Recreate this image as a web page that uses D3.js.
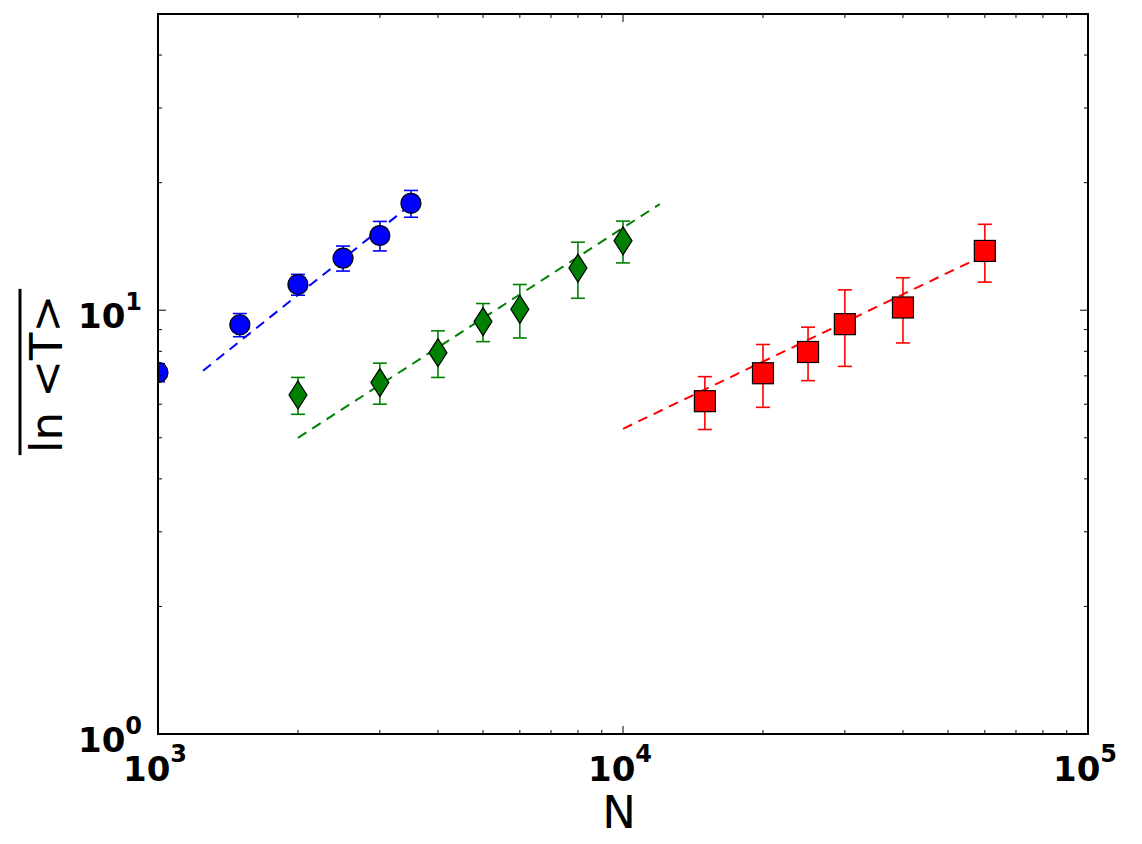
<!DOCTYPE html>
<html>
<head>
<meta charset="utf-8">
<script src="https://cdn.jsdelivr.net/npm/d3@7"></script>
<style>
  body { margin: 0; background: #fff; }
  text { font-family: "DejaVu Sans", sans-serif; }
</style>
</head>
<body>
<div id="main"></div>
<script>
// series values
var nBlue = [1000, 1500, 2000, 2500, 3000, 3500];
var tBlue = [7.13, 9.24, 11.5, 13.27, 15.0, 17.87];
var eBlue = [0.35, 0.58, 0.65, 0.9, 1.2, 1.3];

var nGreen = [2000, 3000, 4000, 5000, 6000, 8000, 10000];
var tGreen = [6.31, 6.75, 7.94, 9.40, 10.05, 12.57, 14.58];
var eGreen = [0.63, 0.75, 1.0, 0.97, 1.45, 1.9, 1.65];

var nRed = [15000, 20000, 25000, 30000, 40000, 60000];
var tRed = [6.1, 7.1, 7.97, 9.27, 10.15, 13.8];
var eRed = [0.87, 1.2, 1.15, 1.9, 1.78, 2.15];

// dashed fit lines (end points)
var fitBlueN = [1250, 3600], fitBlueT = [7.2, 18.2];
var fitGreenN = [2000, 12000], fitGreenT = [5.0, 17.8];
var fitRedN = [10000, 60000], fitRedT = [5.25, 13.5];

// tick labels
var xMajor = [1e3, 1e4, 1e5], xExp = ["3", "4", "5"];
var yMajor = [1, 10], yExp = ["0", "1"];

var ctx = {
    w: 1142,
    h: 844,
    left: 158,
    top: 14,
    right: 54,
    bottom: 110
};
var iw = ctx.w - ctx.left - ctx.right,
    ih = ctx.h - ctx.top - ctx.bottom;

var svg = d3.select("#main").append("svg")
    .attr("width", ctx.w)
    .attr("height", ctx.h);

var x = d3.scaleLog().domain([1e3, 1e5]).range([0, iw]);
var y = d3.scaleLog().domain([1, 50]).range([ih, 0]);

var g = svg.append("g").attr("transform", "translate(" + ctx.left + "," + ctx.top + ")");

g.append("clipPath").attr("id", "clip")
    .append("rect").attr("width", iw).attr("height", ih);

var plot = g.append("g").attr("clip-path", "url(#clip)");

var series = [
    {n: nBlue, t: tBlue, e: eBlue, fn: fitBlueN, ft: fitBlueT, color: "#0000ff", shape: "circle"},
    {n: nGreen, t: tGreen, e: eGreen, fn: fitGreenN, ft: fitGreenT, color: "#008000", shape: "diamond"},
    {n: nRed, t: tRed, e: eRed, fn: fitRedN, ft: fitRedT, color: "#ff0000", shape: "square"}
];

// fits first
series.forEach(function(s) {
    plot.append("line")
        .attr("x1", x(s.fn[0])).attr("y1", y(s.ft[0]))
        .attr("x2", x(s.fn[1])).attr("y2", y(s.ft[1]))
        .attr("stroke", s.color)
        .attr("stroke-width", 2)
        .attr("stroke-dasharray", "10,7");
});

// error bars
series.forEach(function(s) {
    var pts = s.n.map(function(d, i) { return {n: d, t: s.t[i], e: s.e[i]}; });
    var eb = plot.append("g").attr("stroke", s.color).attr("stroke-width", 1.6);
    pts.forEach(function(p) {
        var cx = x(p.n), y1 = y(p.t + p.e), y2 = y(p.t - p.e);
        eb.append("line").attr("x1", cx).attr("x2", cx).attr("y1", y1).attr("y2", y2);
        eb.append("line").attr("x1", cx - 7).attr("x2", cx + 7).attr("y1", y1).attr("y2", y1);
        eb.append("line").attr("x1", cx - 7).attr("x2", cx + 7).attr("y1", y2).attr("y2", y2);
    });
});

// markers
series.forEach(function(s) {
    var pts = s.n.map(function(d, i) { return {n: d, t: s.t[i]}; });
    var m = plot.append("g")
        .attr("fill", s.color)
        .attr("stroke", "#000")
        .attr("stroke-width", 1.2);
    pts.forEach(function(p) {
        var cx = x(p.n), cy = y(p.t);
        if (s.shape == "circle") {
            m.append("circle").attr("cx", cx).attr("cy", cy).attr("r", 10);
        } else if (s.shape == "diamond") {
            m.append("path").attr("d", "M" + cx + "," + (cy - 14) + "L" + (cx + 9) + "," + cy +
                "L" + cx + "," + (cy + 14) + "L" + (cx - 9) + "," + cy + "Z");
        } else {
            m.append("rect").attr("x", cx - 10.5).attr("y", cy - 10.5).attr("width", 21).attr("height", 21);
        }
    });
});

// ticks on all four sides, pointing inwards
var xMinor = [], yMinor = [];
[1e3, 1e4].forEach(function(b) { for (var k = 2; k < 10; k++) xMinor.push(b * k); });
[1, 10].forEach(function(b) { for (var k = 2; k < 10; k++) if (b * k <= 50) yMinor.push(b * k); });

var tk = g.append("g").attr("stroke", "#000").attr("stroke-width", 1);
function xt(v, len) {
    tk.append("line").attr("x1", x(v)).attr("x2", x(v)).attr("y1", ih).attr("y2", ih - len);
    tk.append("line").attr("x1", x(v)).attr("x2", x(v)).attr("y1", 0).attr("y2", len);
}
function yt(v, len) {
    tk.append("line").attr("y1", y(v)).attr("y2", y(v)).attr("x1", 0).attr("x2", len);
    tk.append("line").attr("y1", y(v)).attr("y2", y(v)).attr("x1", iw).attr("x2", iw - len);
}
xMajor.forEach(function(v) { xt(v, 8); });
xMinor.forEach(function(v) { xt(v, 4); });
yMajor.forEach(function(v) { yt(v, 8); });
yMinor.forEach(function(v) { yt(v, 4); });

// frame
g.append("rect").attr("width", iw).attr("height", ih)
    .attr("fill", "none").attr("stroke", "#000").attr("stroke-width", 2);

// tick labels
xMajor.forEach(function(v, i) {
    var t = g.append("text")
        .attr("x", x(v) - 3).attr("y", ih + 47)
        .attr("text-anchor", "middle")
        .attr("font-weight", "bold")
        .attr("font-size", 34);
    t.append("tspan").text("10");
    t.append("tspan").attr("font-size", 24).attr("dy", -19).text(xExp[i]);
});
yMajor.forEach(function(v, i) {
    var t = g.append("text")
        .attr("x", -16).attr("y", y(v) + 18)
        .attr("text-anchor", "end")
        .attr("font-weight", "bold")
        .attr("font-size", 34);
    t.append("tspan").text("10");
    t.append("tspan").attr("font-size", 24).attr("dy", -18).text(yExp[i]);
});

// axis titles
g.append("text")
    .attr("x", iw / 2 - 4).attr("y", ih + 94)
    .attr("text-anchor", "middle")
    .attr("font-size", 45)
    .text("N");

var yl = g.append("g").attr("transform", "translate(" + (62 - ctx.left) + "," + (ih / 2) + ") rotate(-90)");
var ylt = yl.append("text")
    .attr("x", 0).attr("y", 0)
    .attr("text-anchor", "middle")
    .attr("font-size", 45)
    .text("ln <T>");
var bb = ylt.node().getBBox();
yl.append("line")
    .attr("x1", bb.x - 2).attr("x2", bb.x + bb.width + 6)
    .attr("y1", -42).attr("y2", -42)
    .attr("stroke", "#000").attr("stroke-width", 3);
</script>
</body>
</html>
